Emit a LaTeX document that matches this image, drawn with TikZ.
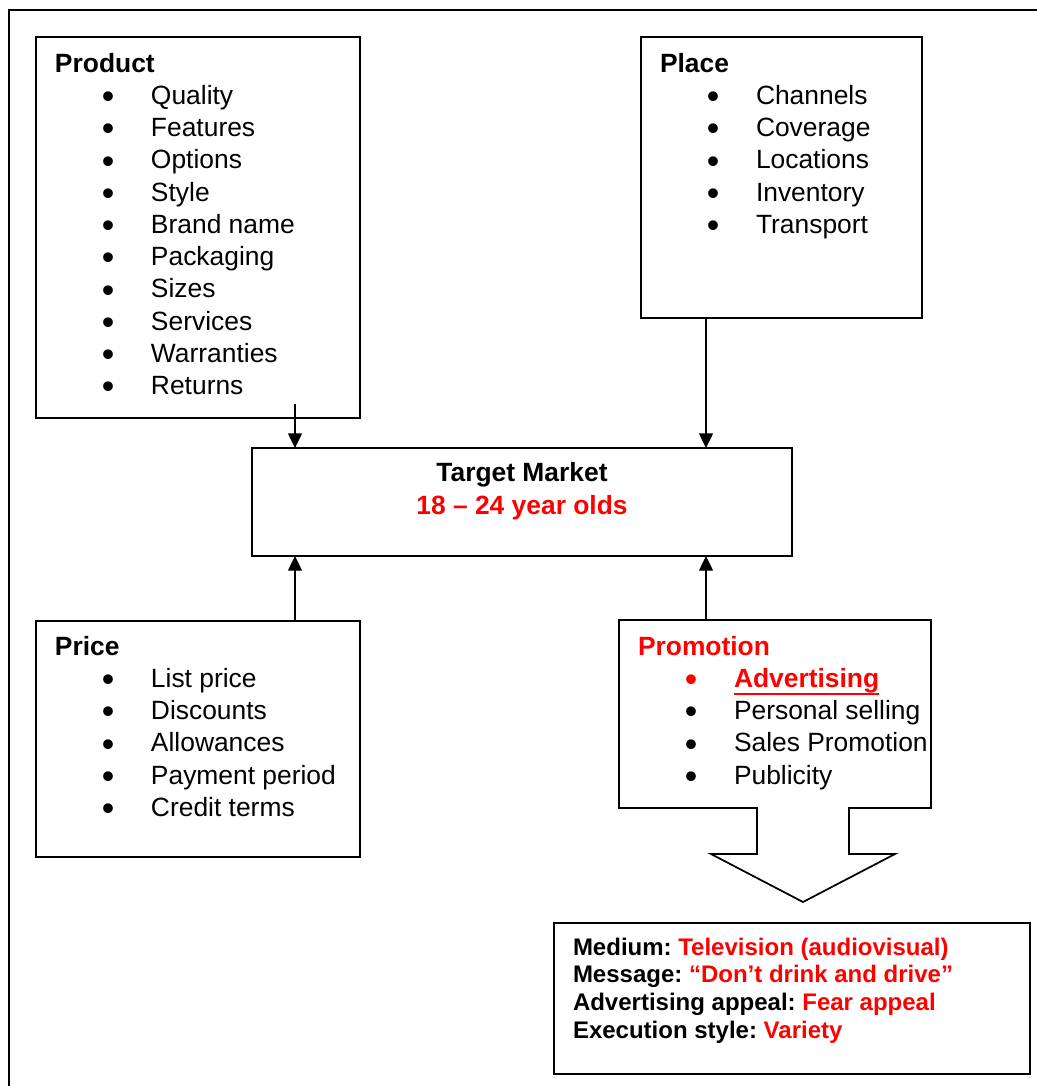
\documentclass[tikz,border=0pt]{standalone}
\usepackage{fontspec}
\setmainfont{Liberation Sans}
\usetikzlibrary{arrows.meta}
\frenchspacing

% list helpers: bold heading, bullet items with a hanging layout
\newcommand{\bulletglyph}{\raisebox{-3.2pt}{\scalebox{1.35}{\textbullet}}}
\newcommand{\headline}[2][black]{\hbox{\color{#1}\bfseries #2}}
\newcommand{\bline}[2][black]{\hbox{\hspace*{39.75pt}\makebox[0pt]{\color{#1}\bulletglyph}\hspace*{32.25pt}#2}}
\newcommand{\ulword}[1]{\setbox0\hbox{#1}\rlap{\rule[-6pt]{\wd0}{1.5pt}}\box0}
\newcommand{\stack}[2]{\vtop{\baselineskip=#1\lineskiplimit=-\maxdimen #2}}
\newcommand{\midline}[1]{\hbox to 0pt{\hss #1\hss}}

\tikzset{
  box/.style={draw, line width=1.3pt, inner sep=0pt, outer sep=0pt, anchor=north west},
  txt/.style={inner sep=0pt, outer sep=0pt, anchor=base west, font=\fontsize{19.8}{24.2}\selectfont},
  arr/.style={line width=1pt, -{Triangle[length=11pt, width=10.5pt]}},
  frame/.style={line width=1.5pt}
}

\begin{document}
\begin{tikzpicture}[x=0.75pt, y=-0.75pt]
  \useasboundingbox (0,0) rectangle (1037,1086);

  % outer frame
  \coordinate (fr) at (1037,10);
  \coordinate (fl) at (9,10);
  \coordinate (fb) at (9,1086);
  \draw[frame] (fr) -- (fl) -- (fb);

  % the four boxes and the target market
  \node[box, minimum width=324*0.75pt, minimum height=381*0.75pt] (prod) at (36,37) {};
  \node[box, minimum width=281*0.75pt, minimum height=281*0.75pt] (place) at (641,37) {};
  \node[box, minimum width=540*0.75pt, minimum height=108*0.75pt] (tm) at (252,448) {};
  \node[box, minimum width=324*0.75pt, minimum height=236*0.75pt] (price) at (36,621) {};
  \node[box, draw=none, minimum width=312*0.75pt, minimum height=188*0.75pt] (promo) at (619,620) {};
  \node[box, minimum width=476*0.75pt, minimum height=151*0.75pt] (adv) at (554,923) {};

  % promotion box merged with the block arrow pointing down
  \draw[line width=1.3pt, line join=miter]
    (promo.north west) -- (promo.south west) -- (757,808) -- (757,854) -- (711,854)
    -- (803,902) -- (895,854) -- (849,854) -- (849,808) -- (promo.south east)
    -- (promo.north east) -- cycle;

  % texts
  \node[txt] (prodtxt) at (55,72) {\stack{24.2pt}{%
    \headline{Product}\bline{Quality}\bline{Features}\bline{Options}\bline{Style}%
    \bline{Brand name}\bline{Packaging}\bline{Sizes}\bline{Services}%
    \bline{Warranties}\bline{Returns}}};
  \node[txt] (placetxt) at (660,72) {\stack{24.2pt}{%
    \headline{Place}\bline{Channels}\bline{Coverage}\bline{Locations}%
    \bline{Inventory}\bline{Transport}}};
  \node[txt] (pricetxt) at (55,655) {\stack{24.2pt}{%
    \headline{Price}\bline{List price}\bline{Discounts}\bline{Allowances}%
    \bline{Payment period}\bline{Credit terms}}};
  \node[txt] (promotxt) at (638,655) {\stack{24.2pt}{%
    \headline[red]{Promotion}\bline[red]{\color{red}\bfseries\ulword{Advertising}}%
    \bline{Personal selling}\bline{Sales Promotion}\bline{Publicity}}};
  \node[txt, anchor=base] (tmtxt) at (522,481) {\stack{24.8pt}{\bfseries
    \midline{Target Market}\midline{\color{red}18 – 24 year olds}}};
  \node[txt, font=\fontsize{18}{20.8}\selectfont\bfseries] (advtxt) at (573,955) {\stack{20.8pt}{%
    \hbox{Medium: \textcolor{red}{Television (audiovisual)}}%
    \hbox{Message: \textcolor{red}{“Don’t drink and drive”}}%
    \hbox{Advertising appeal: \textcolor{red}{Fear appeal}}%
    \hbox{Execution style: \textcolor{red}{Variety}}}};

  % connectors into the target market
  \coordinate (pa) at (295,404);
  \coordinate (pb) at (706,318);
  \draw[arr] (pa) -- (pa |- tm.north);
  \draw[arr] (pb) -- (pb |- tm.north);
  \draw[arr] (pa |- price.north) -- (pa |- tm.south);
  \draw[arr] (pb |- promo.north) -- (pb |- tm.south);
\end{tikzpicture}
\end{document}
